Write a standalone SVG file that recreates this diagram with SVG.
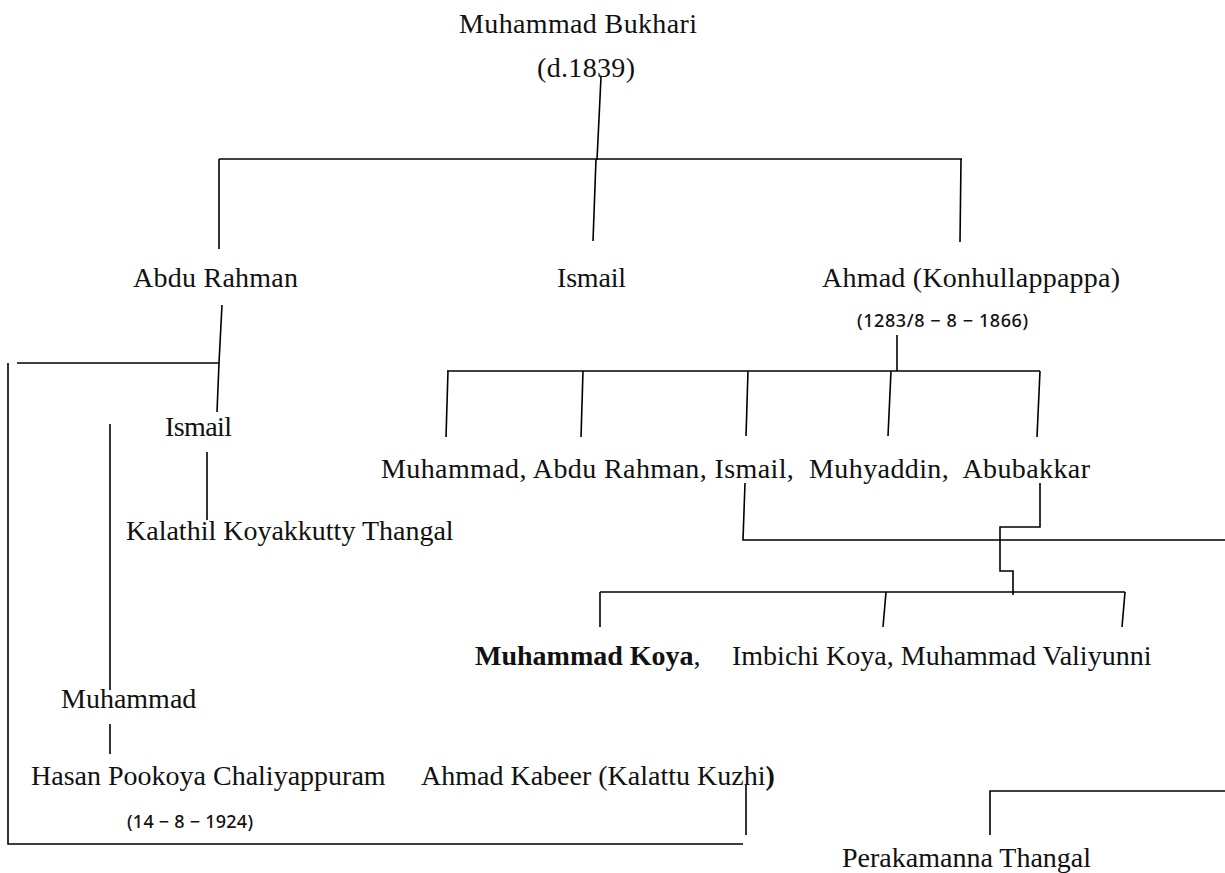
<svg xmlns="http://www.w3.org/2000/svg" width="1225" height="873" viewBox="0 0 1225 873">
<style>
.t{font-family:"Liberation Serif","Times New Roman",serif;font-size:28px;fill:#111}
.b{font-weight:bold}
.d{font-family:"Noto Sans","Noto Sans CJK SC",sans-serif;font-size:18px;font-weight:500;fill:#111}
.c line,.c polyline{stroke:#000;stroke-width:1.6;fill:none}
</style>
<rect width="1225" height="873" fill="#fff"/>
<g class="c" id="connectors">
<line x1="601" y1="77" x2="597" y2="160"/>
<line x1="219" y1="159" x2="962" y2="159"/>
<line x1="219" y1="159" x2="219" y2="249"/>
<line x1="596" y1="159" x2="593" y2="241"/>
<line x1="961" y1="159" x2="960" y2="242"/>
<polyline points="222,305 219,363 217,412"/>
<line x1="17" y1="363" x2="219" y2="363"/>
<polyline points="8,363 8,844 743,844"/>
<line x1="897" y1="335" x2="897" y2="371"/>
<line x1="447" y1="371" x2="1040" y2="371"/>
<line x1="448" y1="371" x2="446" y2="437"/>
<line x1="583" y1="371" x2="581" y2="437"/>
<line x1="748" y1="371" x2="746" y2="436"/>
<line x1="891" y1="371" x2="888" y2="436"/>
<line x1="1040" y1="371" x2="1037" y2="437"/>
<polyline points="745,483 743,540 1225,540"/>
<polyline points="1040,483 1040,527 1000,527 1000,571 1013,571 1013,595"/>
<line x1="600" y1="592" x2="1125" y2="592"/>
<line x1="600" y1="592" x2="600" y2="627"/>
<line x1="886" y1="592" x2="883" y2="627"/>
<line x1="1125" y1="592" x2="1122" y2="627"/>
<line x1="207" y1="452" x2="207" y2="520"/>
<line x1="110" y1="424" x2="110" y2="690"/>
<line x1="110" y1="724" x2="110" y2="754"/>
<line x1="746" y1="785" x2="746" y2="835"/>
<polyline points="990,835 990,791 1225,791"/>
</g>
<g id="bukhari"><text class="t" x="459" y="33" textLength="238">Muhammad Bukhari</text><text class="t" x="537" y="77" textLength="98">(d.1839)</text></g>
<g id="abdurahman"><text class="t" x="133" y="287" textLength="165">Abdu Rahman</text></g>
<g id="ismail"><text class="t" x="557" y="287" textLength="69">Ismail</text></g>
<g id="ahmad"><text class="t" x="822" y="287" textLength="298">Ahmad (Konhullappappa)</text><text class="d" x="857" y="327" textLength="171" xml:space="preserve">(1283/8 − 8 − 1866)</text></g>
<g id="ismail2"><text class="t" x="165" y="436" textLength="67">Ismail</text></g>
<g id="children"><text class="t" x="381" y="478" textLength="709" xml:space="preserve">Muhammad, Abdu Rahman, Ismail,  Muhyaddin,  Abubakkar</text></g>
<g id="kalathil"><text class="t" x="126" y="540">Kalathil Koyakkutty Thangal</text></g>
<g id="grandchildren"><text class="t" x="475" y="665"><tspan class="b">Muhammad Koya</tspan>, </text><text class="t" x="732" y="665">Imbichi Koya, Muhammad Valiyunni</text></g>
<g id="muhammad"><text class="t" x="61" y="708">Muhammad</text></g>
<g id="hasan"><text class="t" x="31" y="785">Hasan Pookoya Chaliyappuram</text><text class="d" x="127" y="828" textLength="126" xml:space="preserve">(14 − 8 − 1924)</text></g>
<g id="kabeer"><text class="t" x="421" y="785">Ahmad Kabeer (Kalattu Kuzhi<tspan class="b">)</tspan></text></g>
<g id="perakamanna"><text class="t" x="842" y="867">Perakamanna Thangal</text></g>
</svg>
